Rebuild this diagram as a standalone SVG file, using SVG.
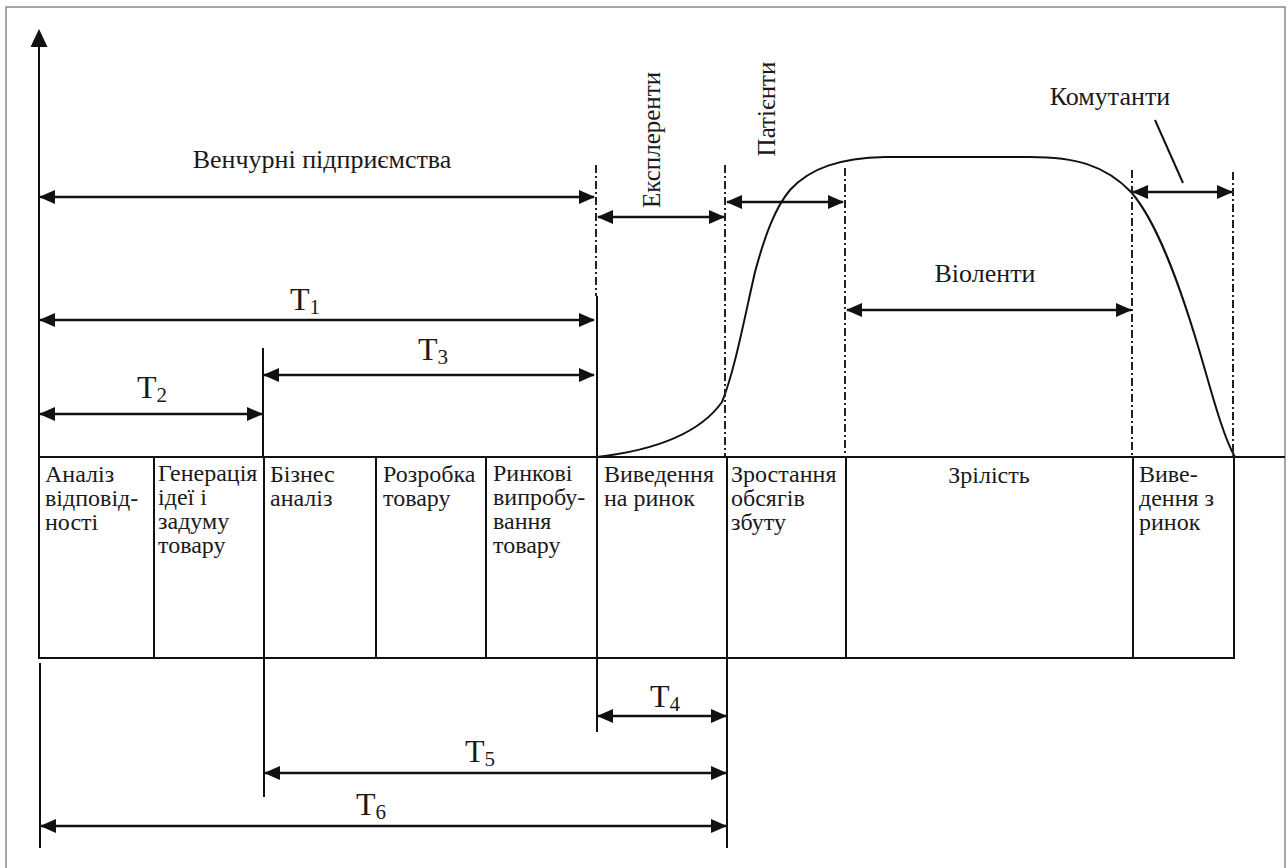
<svg xmlns="http://www.w3.org/2000/svg" width="1288" height="868" viewBox="0 0 1288 868">
<defs>
<marker id="ah" viewBox="0 0 16 14" refX="15" refY="7" markerWidth="16" markerHeight="14" markerUnits="userSpaceOnUse" orient="auto-start-reverse">
<path d="M0,0 L16,7 L0,14 Z" fill="#111"/>
</marker>
<style>
.lbl{font-family:'Liberation Serif','Times New Roman',serif;font-size:24px;fill:#1a1a1a}
.big{font-family:'Liberation Serif','Times New Roman',serif;font-size:26px;fill:#1a1a1a}
.rot{font-family:'Liberation Serif','Times New Roman',serif;font-size:25px;fill:#1a1a1a}
.t{font-family:'Liberation Serif','Times New Roman',serif;font-size:32px;fill:#1a1a1a}
.sub{font-size:21px}
.arr{stroke:#111;stroke-width:2.6;fill:none;marker-start:url(#ah);marker-end:url(#ah)}
.ln{stroke:#111;stroke-width:2;fill:none}
.dd{stroke:#222;stroke-width:2;fill:none;stroke-dasharray:8 3 2 3}
.cell{fill:#fff;stroke:#111;stroke-width:2}
</style>
</defs>
<rect x="0" y="0" width="1288" height="868" fill="#fff"/>
<rect x="6" y="7" width="1279" height="870" fill="none" stroke="#8a8a8a" stroke-width="1.5"/>

<g id="axes">
<line x1="39" y1="458" x2="39" y2="44" class="ln" stroke-width="2.6"/>
<path d="M39,29 L47.5,47 L30.5,47 Z" fill="#111"/>
<line x1="39" y1="457" x2="1285" y2="457" class="ln"/>
</g>

<g id="curve">
<path d="M597,457 C640,452 695,440 722,402 C735,370 745,315 755,272 C765,235 775,208 790,190 C810,168 840,158 885,157 L1030,157 C1075,157 1105,165 1131,192 C1160,225 1185,300 1205,370 C1215,405 1225,440 1235,457" class="ln"/>
</g>

<g id="guides">
<line x1="596" y1="165" x2="596" y2="296" class="dd"/>
<line x1="597" y1="296" x2="597" y2="457" class="ln"/>
<line x1="725" y1="165" x2="725" y2="457" class="dd"/>
<line x1="845" y1="168" x2="845" y2="457" class="dd"/>
<line x1="1132" y1="170" x2="1132" y2="457" class="dd"/>
<line x1="1233" y1="172" x2="1233" y2="457" class="dd"/>
<line x1="263" y1="348" x2="263" y2="457" class="ln"/>
<line x1="40" y1="663" x2="40" y2="848" class="ln"/>
<line x1="264" y1="658" x2="264" y2="797" class="ln"/>
<line x1="597" y1="658" x2="597" y2="732" class="ln"/>
<line x1="727" y1="658" x2="727" y2="848" class="ln"/>
</g>

<g id="table">
<g id="cell-analiz"><rect x="39" y="457" width="115" height="201" class="cell"/>
<text class="lbl" x="45" y="482">Аналіз</text><text class="lbl" x="45" y="506">відповід-</text><text class="lbl" x="45" y="530">ності</text></g>
<g id="cell-generatsiya"><rect x="154" y="457" width="110" height="201" class="cell"/>
<text class="lbl" x="158" y="481">Генерація</text><text class="lbl" x="158" y="505">ідеї і</text><text class="lbl" x="158" y="529">задуму</text><text class="lbl" x="158" y="553">товару</text></g>
<g id="cell-biznes"><rect x="264" y="457" width="112" height="201" class="cell"/>
<text class="lbl" x="270" y="482">Бізнес</text><text class="lbl" x="270" y="506">аналіз</text></g>
<g id="cell-rozrobka"><rect x="376" y="457" width="110" height="201" class="cell"/>
<text class="lbl" x="383" y="482">Розробка</text><text class="lbl" x="383" y="506">товару</text></g>
<g id="cell-rynkovi"><rect x="486" y="457" width="111" height="201" class="cell"/>
<text class="lbl" x="493" y="481">Ринкові</text><text class="lbl" x="493" y="505">випробу-</text><text class="lbl" x="493" y="529">вання</text><text class="lbl" x="493" y="553">товару</text></g>
<g id="cell-vyvedennya"><rect x="597" y="457" width="130" height="201" class="cell"/>
<text class="lbl" x="604" y="482">Виведення</text><text class="lbl" x="604" y="506">на ринок</text></g>
<g id="cell-zrostannya"><rect x="727" y="457" width="119" height="201" class="cell"/>
<text class="lbl" x="731" y="482">Зростання</text><text class="lbl" x="731" y="506">обсягів</text><text class="lbl" x="731" y="530">збуту</text></g>
<g id="cell-zrilist"><rect x="846" y="457" width="287" height="201" class="cell"/>
<text class="lbl" x="989" y="483" text-anchor="middle">Зрілість</text></g>
<g id="cell-vyvedennya-z"><rect x="1133" y="457" width="101" height="201" class="cell"/>
<text class="lbl" x="1139" y="482">Виве-</text><text class="lbl" x="1139" y="506">дення з</text><text class="lbl" x="1139" y="530">ринок</text></g>
</g>

<g id="connectors">
<line x1="40" y1="197" x2="594" y2="197" class="arr"/>
<line x1="40" y1="320" x2="594" y2="320" class="arr"/>
<line x1="264" y1="375" x2="594" y2="375" class="arr"/>
<line x1="40" y1="414" x2="262" y2="414" class="arr"/>
<line x1="598" y1="217" x2="724" y2="217" class="arr"/>
<line x1="727" y1="202" x2="843" y2="202" class="arr"/>
<line x1="847" y1="310" x2="1131" y2="310" class="arr"/>
<line x1="1133" y1="192" x2="1232" y2="192" class="arr"/>
<line x1="1155" y1="120" x2="1183" y2="183" class="ln"/>
<line x1="598" y1="716" x2="726" y2="716" class="arr"/>
<line x1="265" y1="773" x2="726" y2="773" class="arr"/>
<line x1="41" y1="826" x2="726" y2="826" class="arr"/>
</g>

<g id="labels">
<text class="big" x="322" y="168" text-anchor="middle">Венчурні підприємства</text>
<text class="big" x="985" y="282" text-anchor="middle">Віоленти</text>
<text class="big" x="1110" y="105" text-anchor="middle">Комутанти</text>
<text class="rot" transform="translate(660,140) rotate(-90)" text-anchor="middle">Експлеренти</text>
<text class="rot" transform="translate(775,109) rotate(-90)" text-anchor="middle">Патієнти</text>
<text class="t" x="290" y="310">T<tspan class="sub" dy="4">1</tspan></text>
<text class="t" x="137" y="398">T<tspan class="sub" dy="4">2</tspan></text>
<text class="t" x="418" y="360">T<tspan class="sub" dy="4">3</tspan></text>
<text class="t" x="650" y="707">T<tspan class="sub" dy="4">4</tspan></text>
<text class="t" x="465" y="762">T<tspan class="sub" dy="4">5</tspan></text>
<text class="t" x="356" y="815">T<tspan class="sub" dy="4">6</tspan></text>
</g>
</svg>
